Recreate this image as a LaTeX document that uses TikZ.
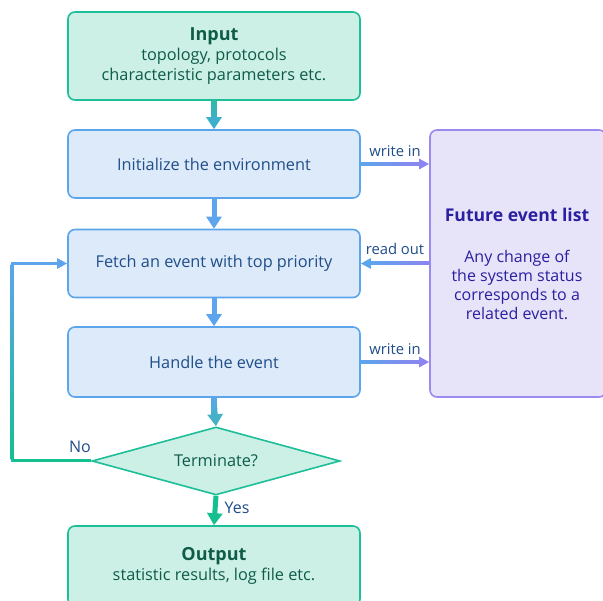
\documentclass[tikz,border=0pt]{standalone}
\usepackage{fontspec}
\setmainfont{Open Sans}
\usetikzlibrary{shapes.geometric,arrows.meta}
\definecolor{gfill}{HTML}{CCEFE6}
\definecolor{gline}{HTML}{1DBF98}
\definecolor{gtext}{HTML}{0E5C48}
\definecolor{bfill}{HTML}{DDEAF9}
\definecolor{bline}{HTML}{5CA5EC}
\definecolor{btext}{HTML}{1F4E8A}
\definecolor{pfill}{HTML}{E7E4F9}
\definecolor{pline}{HTML}{9A8AF0}
\definecolor{ptext}{HTML}{2A1FA0}
\definecolor{tealtop}{HTML}{2DBAA6}
\definecolor{tealarrow}{HTML}{3EAFCC}
\definecolor{bluearrow}{HTML}{5CA5EC}
\definecolor{mixarrow}{HTML}{45B0C6}
\definecolor{greenarrow}{HTML}{14BF90}
\definecolor{purparrow}{HTML}{8C84F0}
\tikzset{
  gbox/.style={draw=gline,fill=gfill,line width=1.6pt,rounded corners=7pt,text=gtext,align=center,minimum width=292pt,inner sep=0pt,font=\fontsize{16.3}{20}\selectfont},
  bbox/.style={draw=bline,fill=bfill,line width=1.6pt,rounded corners=7pt,text=btext,align=center,minimum width=292pt,inner sep=0pt,font=\fontsize{16.3}{20}\selectfont},
  pbox/.style={draw=pline,fill=pfill,line width=1.6pt,rounded corners=7pt,text=ptext,align=center,inner sep=0pt},
  mainarrow/.style={line width=5pt,-{Triangle[width=15pt,length=12pt]}},
  sidearr/.style={line width=3pt,-{Triangle[width=10pt,length=10pt]}},
  lab/.style={text=btext,font=\fontsize{14.8}{17}\selectfont,inner sep=0pt}
}
\begin{document}
\begin{tikzpicture}[x=1pt,y=-1pt]
\useasboundingbox (0,0) rectangle (603,601);
\fill[white] (0,0) rectangle (603,601);
% main column
\node[gbox,minimum height=88pt] (in) at (214,56) {{\fontsize{18}{21}\selectfont\bfseries Input}\\topology, protocols\\characteristic parameters etc.};
\node[bbox,minimum height=68pt] (init) at (214,164) {Initialize the environment};
\node[bbox,minimum height=68pt] (fetch) at (214,263.5) {Fetch an event with top priority};
\node[bbox,minimum height=70pt] (hand) at (214,362) {Handle the event};
\node[diamond,shape aspect=3.65,draw=gline,fill=gfill,line width=1.6pt,minimum width=248pt,minimum height=68pt,inner sep=0pt,text=gtext,font=\fontsize{16.3}{20}\selectfont] (term) at (216,461) {Terminate?};
\node[gbox,minimum height=80pt] (out) at (214,566) {{\fontsize{18}{21}\selectfont\bfseries Output}\\statistic results, log file etc.};
% future event list
\node[pbox,minimum width=176pt,minimum height=267pt] (fel) at (518,263.5) {};
\node[text=ptext,font=\fontsize{17.6}{21}\selectfont\bfseries,inner sep=0pt] (feltitle) at (517,215) {Future event list};
\node[text=ptext,align=center,font=\fontsize{16}{19}\selectfont,inner sep=0pt] (felbody) at (517,284.5) {Any change of\\the system status\\corresponds to a\\related event.};
% vertical arrows
\draw[mainarrow,draw=tealarrow,color=tealarrow] (in.south) -- (init.north);
\shade[top color=tealtop,bottom color=tealarrow] (211.5,100.8) rectangle (216.5,118.5);
\draw[mainarrow,draw=bluearrow,color=bluearrow] (init.south) -- (fetch.north);
\draw[mainarrow,draw=bluearrow,color=bluearrow] (fetch.south) -- (hand.north);
\draw[mainarrow,draw=mixarrow,color=mixarrow] (hand.south) -- (term.north);
\shade[top color=bluearrow,bottom color=mixarrow] (211.5,397.8) rectangle (216.5,415.5);
\draw[mainarrow,draw=greenarrow,color=greenarrow] (term.south) -- (out.north) node[pos=0.4,right=7pt,lab,font=\fontsize{16}{19}\selectfont] {Yes};
% side arrows
\draw[sidearr,draw=purparrow,color=purparrow] (init.east) -- (init.east -| fel.west) node[midway,above=6pt,lab] {write in};
\shade[left color=bluearrow,right color=purparrow] (360.8,162.5) rectangle (420.5,165.5);
\draw[sidearr,draw=bluearrow,color=bluearrow] (fetch.east -| fel.west) -- (fetch.east) node[midway,above=7pt,lab] {read out};
\shade[left color=bluearrow,right color=purparrow] (370,262) rectangle (429.2,265);
\draw[sidearr,draw=purparrow,color=purparrow] (hand.east) -- (hand.east -| fel.west) node[midway,above=6pt,lab] {write in};
\shade[left color=bluearrow,right color=purparrow] (360.8,360.5) rectangle (420.5,363.5);
% No loop
\coordinate (nocorner) at (12,461);
\draw[line width=3pt,draw=bluearrow,color=bluearrow,-{Triangle[width=10pt,length=10pt]}] (term.west) -- (nocorner) -- (12,263.5) -- (fetch.west);
\draw[line width=3pt,draw=greenarrow] (term.west) -- (12,461);
\shade[top color=bluearrow,bottom color=greenarrow] (10.5,265) rectangle (13.5,459.5);
\node[lab,font=\fontsize{16}{19}\selectfont] (no) at (80,447) {No};
\end{tikzpicture}
\end{document}
